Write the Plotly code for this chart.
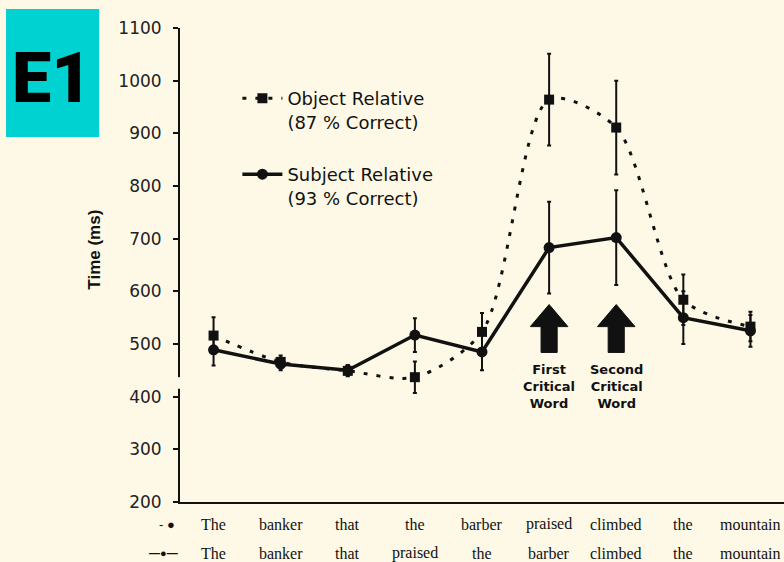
import plotly.graph_objects as go

# ---------------- data ----------------
positions = [0, 1, 2, 3, 4, 5, 6, 7, 8]
object_words = ["The", "banker", "that", "the", "barber", "praised", "climbed", "the", "mountain"]
subject_words = ["The", "banker", "that", "praised", "the", "barber", "climbed", "the", "mountain"]

object_rt = [516, 466, 449, 437, 523, 964, 911, 584, 533]
object_err = [35, 12, 10, 30, 36, 87, 89, 48, 28]
subject_rt = [489, 462, 450, 517, 485, 683, 702, 550, 525]
subject_err = [30, 12, 10, 32, 35, 87, 90, 50, 30]

y_ticks = [200, 300, 400, 500, 600, 700, 800, 900, 1000, 1100]

# critical-word arrows: (category position, label)
arrow_pos = [5, 6]
arrow_labels = ["First<br>Critical<br>Word", "Second<br>Critical<br>Word"]
arrow_tip, arrow_neck, arrow_base = 575, 533, 484

BG = "#fef9e7"
INK = "#111111"

fig = go.Figure()

fig.add_trace(go.Scatter(
    x=positions, y=object_rt, name="Object Relative<br>(87 % Correct)",
    legendgroup="or",
    mode="lines+markers",
    line=dict(color=INK, width=3, dash="4px,9px", shape="spline", smoothing=0.8),
    marker=dict(symbol="square", size=10, color=INK),
    error_y=dict(type="data", array=object_err, color=INK, thickness=2, width=2),
))
fig.add_trace(go.Scatter(
    x=positions, y=subject_rt, name="Subject Relative<br>(93 % Correct)",
    legendgroup="sr",
    mode="lines+markers",
    line=dict(color=INK, width=3.5),
    marker=dict(symbol="circle", size=11, color=INK),
    error_y=dict(type="data", array=subject_err, color=INK, thickness=2, width=2),
))

shapes = []
annotations = []
# arrows
for xc, lab in zip(arrow_pos, arrow_labels):
    hw, sw = 0.28, 0.12
    path = (f"M {xc} {arrow_tip} L {xc+hw} {arrow_neck} L {xc+sw} {arrow_neck} "
            f"L {xc+sw} {arrow_base} L {xc-sw} {arrow_base} L {xc-sw} {arrow_neck} "
            f"L {xc-hw} {arrow_neck} Z")
    shapes.append(dict(type="path", path=path, xref="x", yref="y",
                       fillcolor=INK, line=dict(color=INK, width=1)))
    annotations.append(dict(x=xc, y=470, xref="x", yref="y", text=lab, showarrow=False,
                            xanchor="center", yanchor="top", align="center",
                            font=dict(family="DejaVu Sans", size=13, color=INK, weight="bold")))

# break in the y axis line
shapes.append(dict(type="rect", xref="paper", yref="y", x0=-0.008, x1=0.008,
                   y0=415, y1=437, fillcolor=BG, line=dict(width=0), layer="above"))

# word rows under the axis
for p, w in zip(positions, object_words):
    annotations.append(dict(x=p, y=0, xref="x", yref="paper", text=w, showarrow=False,
                            xanchor="center", yanchor="middle", yshift=-22,
                            font=dict(family="Liberation Serif", size=16, color=INK)))
for p, w in zip(positions, subject_words):
    annotations.append(dict(x=p, y=0, xref="x", yref="paper", text=w, showarrow=False,
                            xanchor="center", yanchor="middle", yshift=-51,
                            font=dict(family="Liberation Serif", size=16, color=INK)))
annotations.append(dict(x=-0.5, y=0, xref="x", yref="paper", text="- ●", showarrow=False,
                        xanchor="right", yanchor="middle", xshift=-3, yshift=-22,
                        font=dict(family="Arial", size=13, color=INK)))
annotations.append(dict(x=-0.5, y=0, xref="x", yref="paper", text="<b>—●—</b>", showarrow=False,
                        xanchor="right", yanchor="middle", xshift=0, yshift=-51,
                        font=dict(family="Arial", size=11, color=INK)))

# y title
annotations.append(dict(x=-0.141, y=0.532, xref="paper", yref="paper", text="Time (ms)",
                        textangle=-90, showarrow=False, xanchor="center", yanchor="middle",
                        font=dict(family="Arial", size=17, color=INK, weight="bold")))

# E1 badge
shapes.append(dict(type="rect", xref="paper", yref="paper",
                   x0=-0.288, x1=-0.134, y0=0.770, y1=1.040,
                   fillcolor="#00d1d1", line=dict(width=0)))
annotations.append(dict(x=-0.212, y=0.895, xref="paper", yref="paper", text="E1",
                        showarrow=False, xanchor="center", yanchor="middle",
                        font=dict(family="Roboto", size=70,
                                  color="#000000", weight=900)))

fig.update_layout(
    width=784, height=562,
    margin=dict(l=180, r=0, t=28, b=60),
    paper_bgcolor=BG, plot_bgcolor=BG,
    shapes=shapes, annotations=annotations,
    showlegend=True,
    legend=dict(x=0.095, y=0.89, xanchor="left", yanchor="top",
                bgcolor="rgba(0,0,0,0)", traceorder="grouped", tracegroupgap=26,
                valign="top", itemwidth=40,
                font=dict(family="DejaVu Sans", size=18, color=INK)),
    xaxis=dict(range=[-0.5, 8.5], showticklabels=False, ticks="", showgrid=False,
               zeroline=False, showline=True, linecolor=INK, linewidth=2,
               tickvals=positions),
    yaxis=dict(range=[200, 1100], tickvals=y_ticks, ticks="outside", ticklen=5,
               tickcolor=INK, tickwidth=2, showgrid=False, zeroline=False,
               showline=True, linecolor=INK, linewidth=2, ticklabelstandoff=8,
               tickfont=dict(family="DejaVu Sans", size=17, color="#222222")),
)

fig.write_html("out.html", config={"displayModeBar": False},
               post_script="document.body.style.margin='0';")
